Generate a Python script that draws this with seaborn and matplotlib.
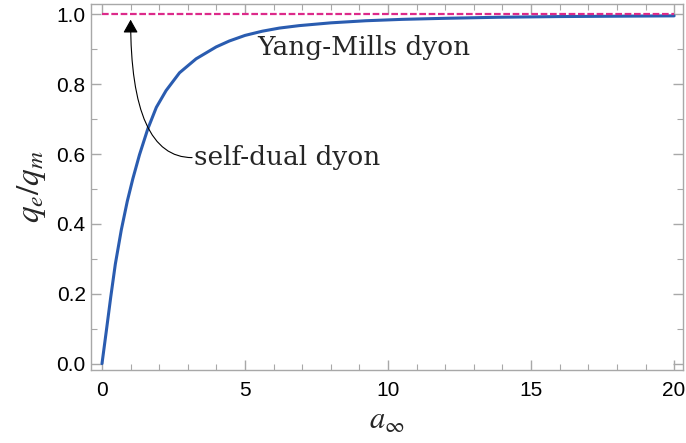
import numpy as np
import pandas as pd
import matplotlib
matplotlib.use('Agg')
import matplotlib.pyplot as plt
import seaborn as sns

# values
a_inf = [0, 0.152, 0.303, 0.466, 0.675, 0.884, 1.08, 1.31, 1.60, 1.90, 2.24,
         2.71, 3.29, 3.99, 4.45, 5.0, 5.6, 6.2, 6.89, 8.0, 9.22, 10.5,
         12.0, 13.86, 16.0, 18.0, 20.0]
qe_qm = [0, 0.094, 0.189, 0.285, 0.383, 0.465, 0.530, 0.598, 0.672, 0.734, 0.782,
         0.833, 0.873, 0.907, 0.924, 0.940, 0.952, 0.961, 0.968, 0.976,
         0.982, 0.986, 0.989, 0.992, 0.994, 0.995, 0.996]
ym_x = [0, 20]
ym_y = [1.0, 1.0]

sns.set_style('ticks')
plt.rcParams['font.family'] = ['Liberation Sans', 'DejaVu Sans']
plt.rcParams['mathtext.fontset'] = 'stix'

fig = plt.figure(figsize=(6.86, 4.43), dpi=100)
ax = fig.add_axes([0.132, 0.165, 0.8636, 0.826])

df = pd.DataFrame({'a': a_inf, 'q': qe_qm})
sns.lineplot(data=df, x='a', y='q', ax=ax, color='#2a5cb0', linewidth=2.2)
ax.plot(ym_x, ym_y, color='#dc2a8a', linewidth=1.6, linestyle=(0, (3, 1.2)))

ax.set_xlim(-0.4, 20.31)
ax.set_ylim(-0.018, 1.03)
ax.set_xticks([0, 5, 10, 15, 20])
ax.set_xticks(np.arange(0, 21, 1), minor=True)
ax.set_yticks([0.0, 0.2, 0.4, 0.6, 0.8, 1.0])
ax.set_yticks(np.arange(0, 1.01, 0.1), minor=True)
ax.set_yticklabels(['0.0', '0.2', '0.4', '0.6', '0.8', '1.0'])

for s in ax.spines.values():
    s.set_color('#a8a8a8')
    s.set_linewidth(1.0)
ax.tick_params(which='both', direction='in', top=True, right=True, color='#a8a8a8',
               labelsize=15, labelcolor='black')
ax.tick_params(which='major', length=7, width=1.0)
ax.tick_params(which='minor', length=4, width=0.8)
ax.tick_params(axis='x', pad=8)

ax.set_xlabel(r'$a_\infty$', fontsize=22, labelpad=4)
ax.set_ylabel(r'$q_e/q_m$', fontsize=24, labelpad=6)

# arrow from the label to the self-dual line
ax.annotate('', xy=(1.0, 0.985), xytext=(3.15, 0.59),
            arrowprops=dict(arrowstyle='-|>,head_length=0.8,head_width=0.45', color='black',
                            linewidth=0.8, shrinkA=0, shrinkB=0,
                            connectionstyle='angle3,angleA=0,angleB=90'))
ax.text(3.23, 0.59, 'self-dual dyon', fontsize=19, family='DejaVu Serif',
        va='center', ha='left')
ax.text(5.42, 0.905, 'Yang-Mills dyon', fontsize=19, family='DejaVu Serif',
        va='center', ha='left')

fig.savefig('out.png', dpi=100)
